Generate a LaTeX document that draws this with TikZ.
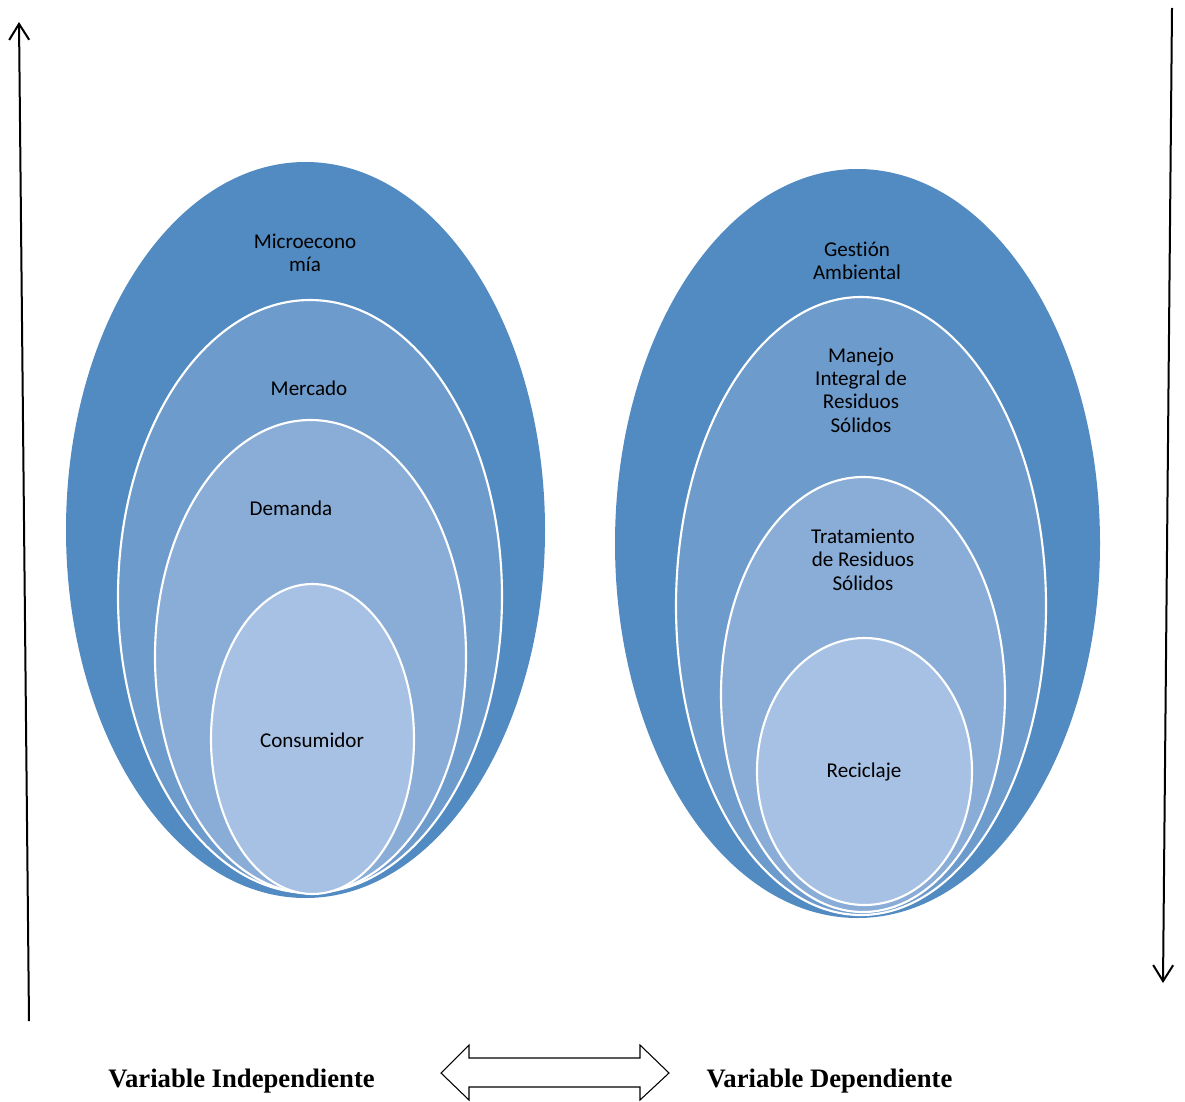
\documentclass[tikz,border=0pt]{standalone}
\usepackage{fontspec}
\setmainfont[Ligatures={NoCommon}]{Carlito}
\newfontfamily\labelfont{Liberation Serif}
\usetikzlibrary{shapes.geometric,arrows.meta}
\definecolor{ringA}{HTML}{528BC1}
\definecolor{ringB}{HTML}{6D9BCB}
\definecolor{ringC}{HTML}{89ADD6}
\definecolor{ringD}{HTML}{A6C1E3}
\tikzset{
  ring/.style n args={3}{ellipse, inner sep=0pt, draw=white, line width=1.6pt,
    minimum width={#1*0.75pt}, minimum height={#2*0.75pt}, fill=#3},
  lbl/.style={align=center, font=\fontsize{15.8}{17.5}\selectfont, text=black, inner sep=0pt},
  axis/.style={line width=1.5pt, -{Straight Barb[length=12pt,width=15pt,line width=1.5pt]}},
  var/.style={font=\labelfont\bfseries\fontsize{20}{23}\selectfont, inner sep=0pt}
}
\begin{document}
\begin{tikzpicture}[x=0.75pt,y=-0.75pt]
\useasboundingbox (0,0) rectangle (1185,1102);

% left set of nested rings
\node[ring={479}{736}{ringA}, draw=none] (micro) at (305.5,530) {};
\node[ring={384}{593}{ringB}] (merc) at (310,596.5) {};
\node[ring={311}{473}{ringC}] (dem) at (310.5,656.5) {};
\node[ring={203}{310}{ringD}] (cons) at (312.5,739) {};

\node[lbl] (tmicro) at (305,253) {Microecono\\mía};
\node[lbl] (tmerc) at (309,388) {Mercado};
\node[lbl] (tdem) at (291,508) {Demanda};
\node[lbl] (tcons) at (312,740) {Consumidor};

% right set of nested rings
\node[ring={485}{749}{ringA}, draw=none] (gest) at (857.5,543.5) {};
\node[ring={370}{618}{ringB}] (mir) at (861,606) {};
\node[ring={284}{435}{ringC}] (trat) at (863,694.5) {};
\node[ring={215}{267}{ringD}] (recic) at (864.5,771.5) {};

\node[lbl] (tgest) at (857,260.5) {Gestión\\Ambiental};
\node[lbl] (tmir) at (861,390) {Manejo\\Integral de\\Residuos\\Sólidos};
\node[lbl] (ttrat) at (863,559.5) {Tratamiento\\de Residuos\\Sólidos};
\node[lbl] (trecic) at (864,772) {Reciclaje};

% vertical axes
\coordinate (upA) at (29,1021);
\coordinate (upB) at (19,22);
\coordinate (dnA) at (1172,8);
\coordinate (dnB) at (1163,983);
\draw[axis] (upA) -- (upB);
\draw[axis] (dnA) -- (dnB);

% double arrow between the two labels
\draw[line width=0.8pt, fill=white]
  (441,1073) -- (469,1045) -- (469,1058) -- (640,1058) -- (640,1045)
  -- (669,1073) -- (640,1100) -- (640,1087) -- (469,1087) -- (469,1100) -- cycle;

\node[var] (vi) at (241.5,1081) {Variable Independiente};
\node[var] (vd) at (829.5,1081) {Variable Dependiente};
\end{tikzpicture}
\end{document}
